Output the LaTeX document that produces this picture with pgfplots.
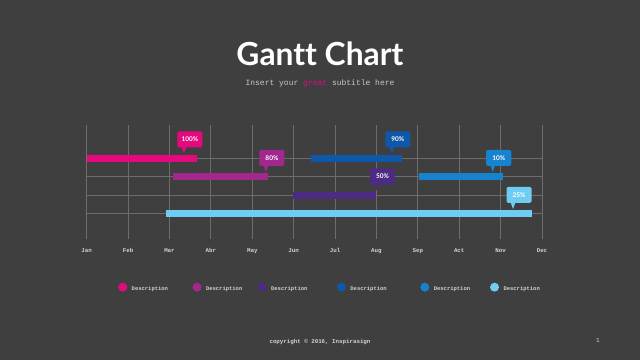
\documentclass[border=0pt]{standalone}
\usepackage{fontspec}
\usepackage{pgfplots}
\pgfplotsset{compat=1.18}
\setmainfont{Lato}[Ligatures=CommonOff]
\newfontfamily\monof{Liberation Mono}
\definecolor{bg}{HTML}{3F3F3F}
\definecolor{gridc}{HTML}{6C6C6C}
\definecolor{subc}{HTML}{C8C8C8}
\definecolor{legc}{HTML}{D2D2D2}
\definecolor{c1}{HTML}{E5097F}
\definecolor{c2}{HTML}{A2288E}
\definecolor{c3}{HTML}{4D2A84}
\definecolor{c4}{HTML}{0F57A8}
\definecolor{c5}{HTML}{1782CE}
\definecolor{c6}{HTML}{6FCDF4}
\tikzset{cobox/.style={fill=#1, text=white,
  font=\fontsize{6.5bp}{7bp}\selectfont\bfseries,
  minimum width=25bp, minimum height=16bp, inner sep=1bp,
  rounded corners=1.5bp, anchor=south, xshift=6bp, yshift=6bp}}
\newcommand{\callout}[4]{%
  \fill[#1] (axis cs:#2,#3) -- ++(-2.5bp,6.8bp) -- ++(5bp,0bp) -- cycle;
  \node[cobox=#1] at (axis cs:#2,#3) {#4};}
\begin{document}
\begin{tikzpicture}
\path[use as bounding box, fill=bg] (0,0) rectangle (640bp,-360bp);
\node[white, font=\fontsize{31.8bp}{34bp}\selectfont\bfseries, anchor=base, inner sep=0pt] at (320bp,-65bp) {Gantt Chart};
\node[anchor=base, font=\monof\fontsize{8bp}{9bp}\selectfont, text=subc, inner sep=0pt] at (320bp,-85bp) {Insert your \textcolor{c1}{great} subtitle here};
\begin{axis}[at={(86.7bp,-239bp)}, anchor=south west, scale only axis,
  width=455.3bp, height=114bp, xmin=0, xmax=11, ymin=-239, ymax=-125,
  axis line style={draw=none}, major tick length=0pt, no markers,
  xmajorgrids, ymajorgrids, grid style={gridc, line width=0.8bp},
  xtick={0,...,11}, xticklabels={Jan,Feb,Mar,Abr,May,Jun,Jul,Aug,Sep,Act,Nov,Dec},
  ytick={-158,-176.5,-195,-213.5}, yticklabels={},
  xticklabel style={font=\monof\bfseries\fontsize{5.8bp}{6bp}\selectfont, text=legc, anchor=base, yshift=-13.5bp},
  clip=false,
  legend image code/.code={\path[draw=none] (0bp,0bp) -- (13.5bp,0bp); \node[#1, draw=none, fill, circle, inner sep=0pt, minimum size=9bp] at (4.5bp,2bp) {};},
  legend columns=6,
  legend style={at={(axis description cs:0.0692,-0.4237)}, anchor=west, draw=none, fill=none,
    inner sep=0pt, outer sep=0pt, column sep=0pt,
    nodes={inner sep=0pt, text=legc, font=\monof\bfseries\fontsize{5.5bp}{6bp}\selectfont}},
  every axis plot/.append style={line width=7bp, line cap=butt}]
\addplot[c1] coordinates {(0,-158) (2.67,-158)};
\addlegendentry{Description\hspace*{24.5bp}}
\addplot[c2] coordinates {(2.08,-176.5) (4.39,-176.5)};
\addlegendentry{Description\hspace*{15.3bp}}
\addplot[c3] coordinates {(4.99,-195) (6.99,-195)};
\addlegendentry{Description\hspace*{29.5bp}}
\addplot[c4] coordinates {(5.43,-158) (7.61,-158)};
\addlegendentry{Description\hspace*{33.6bp}}
\addplot[c5] coordinates {(8.03,-176.5) (10.05,-176.5)};
\addlegendentry{Description\hspace*{19.9bp}}
\addplot[c6] coordinates {(1.92,-213.5) (10.75,-213.5)};
\addlegendentry{Description}
\callout{c1}{2.35}{-153.5}{100\%}
\callout{c2}{4.33}{-172}{80\%}
\callout{c4}{7.37}{-153.5}{90\%}
\callout{c5}{9.81}{-172}{10\%}
\callout{c3}{7.0}{-190.5}{50\%}
\callout{c6}{10.3}{-209}{25\%}
\end{axis}
\node[anchor=base, font=\monof\bfseries\fontsize{5.8bp}{7bp}\selectfont, text=legc, inner sep=0pt] at (320bp,-343.5bp) {copyright © 2016, Inspirasign};
\node[anchor=base, font=\monof\fontsize{6bp}{7bp}\selectfont, text=legc, inner sep=0pt] at (598bp,-342bp) {1};
\end{tikzpicture}
\end{document}
